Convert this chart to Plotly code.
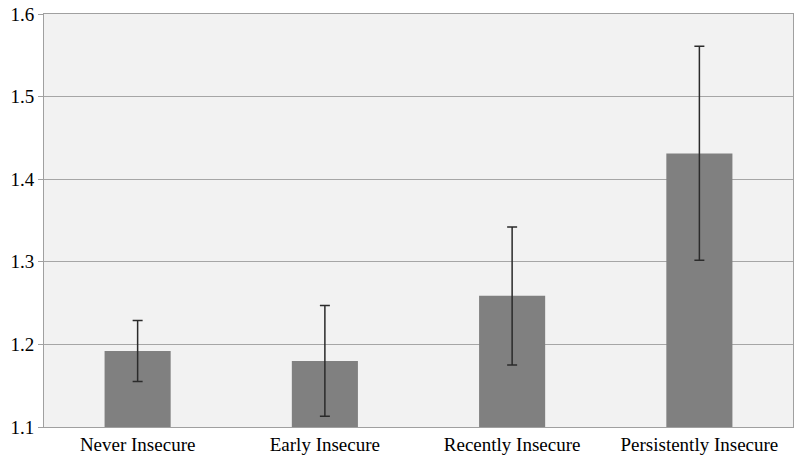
import plotly.graph_objects as go

categories = ["Never Insecure", "Early Insecure", "Recently Insecure", "Persistently Insecure"]
means = [1.192, 1.180, 1.259, 1.431]
err_upper = [1.229, 1.247, 1.342, 1.561]
err_lower = [1.155, 1.113, 1.175, 1.302]

plus = [u - m for u, m in zip(err_upper, means)]
minus = [m - l for m, l in zip(means, err_lower)]

fig = go.Figure(go.Bar(
    x=categories, y=means,
    marker=dict(color="#808080", line=dict(width=0)),
    error_y=dict(type="data", symmetric=False, array=plus, arrayminus=minus,
                 color="#2b2b2b", thickness=1.5, width=5),
))

serif = "Liberation Serif"

fig.update_layout(
    width=800, height=467,
    margin=dict(l=44, r=7, t=14, b=40, autoexpand=False),
    paper_bgcolor="white", plot_bgcolor="#f2f2f2",
    bargap=0.647,
    showlegend=False,
    font=dict(family=serif, size=19, color="#000"),
    xaxis=dict(showgrid=False, showline=True, linecolor="#a0a0a0", linewidth=1,
               mirror=True, ticks="", automargin=False,
               tickfont=dict(family=serif, size=19, color="#000")),
    yaxis=dict(range=[1.1, 1.6], dtick=0.1, tickformat=".1f", showgrid=True,
               gridcolor="#a6a6a6", gridwidth=1, showline=True, linecolor="#a0a0a0",
               linewidth=1, mirror=True, ticks="outside", ticklen=5, tickcolor="#a0a0a0",
               zeroline=False, ticklabeloverflow="allow", automargin=False,
               tickfont=dict(family=serif, size=19, color="#000")),
)

fig.write_html(
    "out.html",
    config={"displayModeBar": False},
    post_script="document.body.style.margin='0';document.body.style.overflow='hidden';",
)
